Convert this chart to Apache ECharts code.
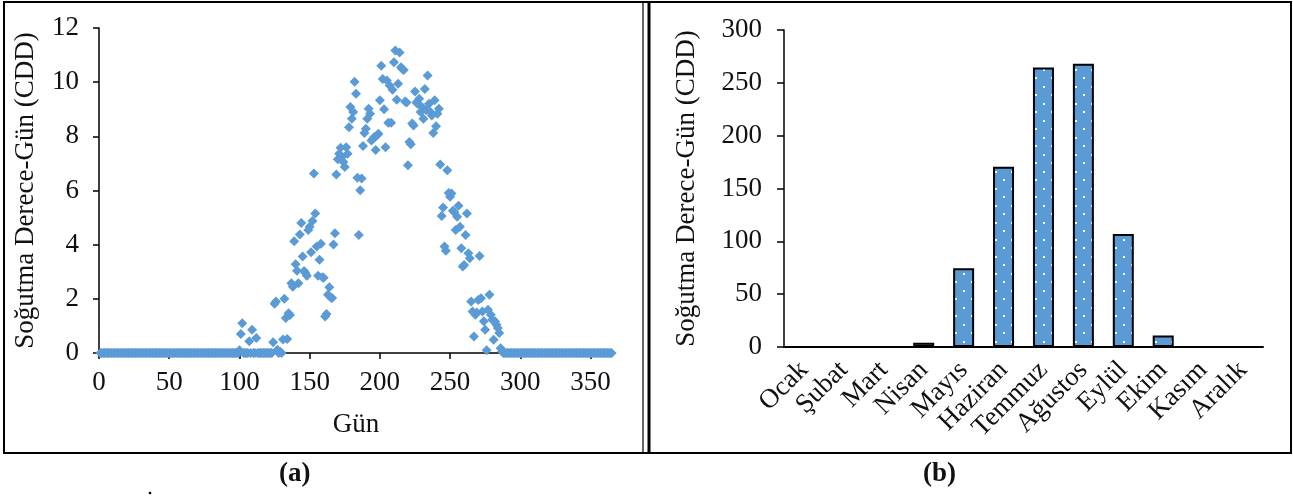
<!DOCTYPE html>
<html>
<head>
<meta charset="utf-8">
<script src="https://cdn.jsdelivr.net/npm/echarts@6/dist/echarts.min.js"></script>
<style>html,body{margin:0;padding:0;background:#fff;}#c{width:1293px;height:497px;}</style>
</head>
<body>
<div id="c"></div>
<script>
// ---- Data ----
// (a) daily cooling degree-days, days 1..365
const cddDaily = [
  0,0,0,0,0,0,0,0,0,0,          // 1-10
  0,0,0,0,0,0,0,0,0,0,          // 11-20
  0,0,0,0,0,0,0,0,0,0,          // 21-30
  0,0,0,0,0,0,0,0,0,0,          // 31-40
  0,0,0,0,0,0,0,0,0,0,          // 41-50
  0,0,0,0,0,0,0,0,0,0,          // 51-60
  0,0,0,0,0,0,0,0,0,0,          // 61-70
  0,0,0,0,0,0,0,0,0,0,          // 71-80
  0,0,0,0,0,0,0,0,0,0,          // 81-90
  0,0,0,0,0,0,0,0,0,0.1,        // 91-100
  0.7,1.1,0,0,0,0,0.43,0,0.86,0,                  // 101-110
  0,0.55,0,0,0,0,0,0,0,0,                         // 111-120
  0,0,0,0.4,1.82,1.9,0.12,0,0.05,0,               // 121-130
  0.5,2.0,1.29,0.52,1.47,1.4,2.58,2.45,4.13,3.28, // 131-140
  3.04,2.58,4.38,4.8,3.56,3.03,2.95,2.85,4.54,4.66, // 141-150
  3.72,4.87,6.63,5.15,3.93,2.85,3.44,4.03,2.8,2.78, // 151-160
  1.35,1.44,2.15,2.43,2.05,2.03,4.01,4.42,6.59,7.15, // 161-170
  7.36,7.58,7.24,7.05,6.87,7.6,7.36,8.34,9.08,8.65,  // 171-180
  8.9,10.02,9.57,6.47,4.36,6.01,6.44,7.64,8.12,8.28, // 181-190
  8.65,9.02,8.83,7.85,7.9,7.98,7.5,8.04,8.1,9.33,    // 191-200
  10.61,10.12,9.0,7.6,10.06,8.5,9.88,8.5,9.72,10.74, // 201-210
  11.17,9.35,9.94,11.1,10.55,10.49,10.45,9.29,9.25,6.93, // 211-220
  7.79,7.71,8.47,8.4,9.66,9.25,9.2,9.39,8.9,9.08,    // 221-230
  8.65,9.75,8.96,10.25,9.2,8.9,8.77,8.12,9.33,8.37,  // 231-240
  8.83,9.02,6.96,5.06,5.37,3.93,3.78,6.75,5.91,5.77, // 241-250
  5.89,5.25,5.2,4.54,5.03,5.44,4.66,3.87,3.19,3.25,  // 251-260
  4.36,5.15,3.68,3.5,1.9,1.53,0.61,1.41,1.5,1.96,    // 261-270
  3.58,2.02,1.53,1.17,0.86,0.1,1.6,2.15,1.41,1.23,   // 271-280
  0.49,1.17,1.04,0.92,0.74,0.18,0.06,0,0,0,          // 281-290
  0,0,0,0,0,0,0,0,0,0,          // 291-300
  0,0,0,0,0,0,0,0,0,0,          // 301-310
  0,0,0,0,0,0,0,0,0,0,          // 311-320
  0,0,0,0,0,0,0,0,0,0,          // 321-330
  0,0,0,0,0,0,0,0,0,0,          // 331-340
  0,0,0,0,0,0,0,0,0,0,          // 341-350
  0,0,0,0,0,0,0,0,0,0,          // 351-360
  0,0,0,0,0                     // 361-365
];
const dayTicks = [0, 50, 100, 150, 200, 250, 300, 350];

// (b) monthly cooling degree-days
const months = ['Ocak','Şubat','Mart','Nisan','Mayıs','Haziran','Temmuz','Ağustos','Eylül','Ekim','Kasım','Aralık'];
const cddMonthly = [0, 0, 0, 4, 74.5, 170.5, 264.5, 268, 107, 11, 0, 0];

const yTitle = 'Soğutma Derece-Gün (CDD)';
const xTitleA = 'Gün';

// ---- Chart ----
const FONT = 'Liberation Serif';
const TXT = '#111';
const BLUE = '#5B9BD5';

const pc = document.createElement('canvas');
pc.width = 16; pc.height = 17;
const pctx = pc.getContext('2d');
pctx.fillStyle = BLUE; pctx.fillRect(0, 0, 16, 17);
pctx.fillStyle = '#ffffff';
pctx.fillRect(3, 1, 2, 2);
pctx.fillRect(11, 9, 2, 2);

const chart = echarts.init(document.getElementById('c'), null, {renderer: 'canvas', width: 1293, height: 497});

const labelStyle = {fontFamily: FONT, fontSize: 27, color: TXT};

chart.setOption({
  animation: false,
  backgroundColor: '#ffffff',
  grid: [
    {left: 99, top: 28, width: 514, height: 325},
    {left: 784, top: 30, width: 479, height: 317}
  ],
  xAxis: [
    {
      type: 'value', gridIndex: 0, min: 0, max: 366,
      axisLine: {show: true, lineStyle: {color: '#000', width: 1.5}},
      axisTick: {show: true, inside: false, length: 6, customValues: dayTicks, lineStyle: {color: '#000', width: 1.5}},
      axisLabel: Object.assign({customValues: dayTicks, margin: 16}, labelStyle),
      splitLine: {show: false},
      name: xTitleA, nameLocation: 'middle', nameGap: 58,
      nameTextStyle: labelStyle
    },
    {
      type: 'category', gridIndex: 1, data: months,
      axisLine: {show: true, lineStyle: {color: '#000', width: 2}},
      axisTick: {show: false},
      axisLabel: Object.assign({rotate: 45, interval: 0, margin: 19}, labelStyle),
      splitLine: {show: false}
    }
  ],
  yAxis: [
    {
      type: 'value', gridIndex: 0, min: 0, max: 12, interval: 2,
      axisLine: {show: true, lineStyle: {color: '#000', width: 1.5}},
      axisTick: {show: true, inside: false, length: 6, lineStyle: {color: '#000', width: 1.5}},
      axisLabel: Object.assign({margin: 20}, labelStyle),
      splitLine: {show: false},
      name: yTitle, nameLocation: 'middle', nameGap: 60,
      nameTextStyle: labelStyle
    },
    {
      type: 'value', gridIndex: 1, min: 0, max: 300, interval: 50,
      axisLine: {show: true, lineStyle: {color: '#000', width: 1.5}},
      axisTick: {show: true, inside: false, length: 7, lineStyle: {color: '#000', width: 1.5}},
      axisLabel: Object.assign({margin: 22}, labelStyle),
      splitLine: {show: false},
      name: yTitle, nameLocation: 'middle', nameGap: 84,
      nameTextStyle: labelStyle
    }
  ],
  series: [
    {
      type: 'scatter', xAxisIndex: 0, yAxisIndex: 0,
      symbol: 'diamond', symbolSize: [10, 10],
      itemStyle: {color: BLUE, opacity: 1},
      data: cddDaily.map((v, i) => [i + 1, v])
    },
    {
      type: 'bar', xAxisIndex: 1, yAxisIndex: 1,
      barWidth: 21,
      itemStyle: {color: {image: pc, repeat: 'repeat'}, borderColor: '#000', borderWidth: 2},
      data: cddMonthly
    }
  ],
  graphic: [
    {type: 'rect', shape: {x: 4, y: 2, width: 1287, height: 451}, style: {fill: 'none', stroke: '#000', lineWidth: 2}, silent: true},
    {type: 'line', shape: {x1: 643, y1: 2, x2: 643, y2: 453}, style: {stroke: '#000', lineWidth: 1.2}, silent: true},
    {type: 'line', shape: {x1: 649, y1: 2, x2: 649, y2: 453}, style: {stroke: '#000', lineWidth: 3}, silent: true},
    {type: 'text', left: 279, top: 461, style: {text: '(a)', font: 'bold 27px "Liberation Serif"', fill: TXT}},
    {type: 'text', left: 923, top: 461, style: {text: '(b)', font: 'bold 27px "Liberation Serif"', fill: TXT}},
    {type: 'circle', shape: {cx: 150, cy: 493, r: 1.3}, style: {fill: '#000'}, silent: true}
  ]
});
</script>
</body>
</html>
